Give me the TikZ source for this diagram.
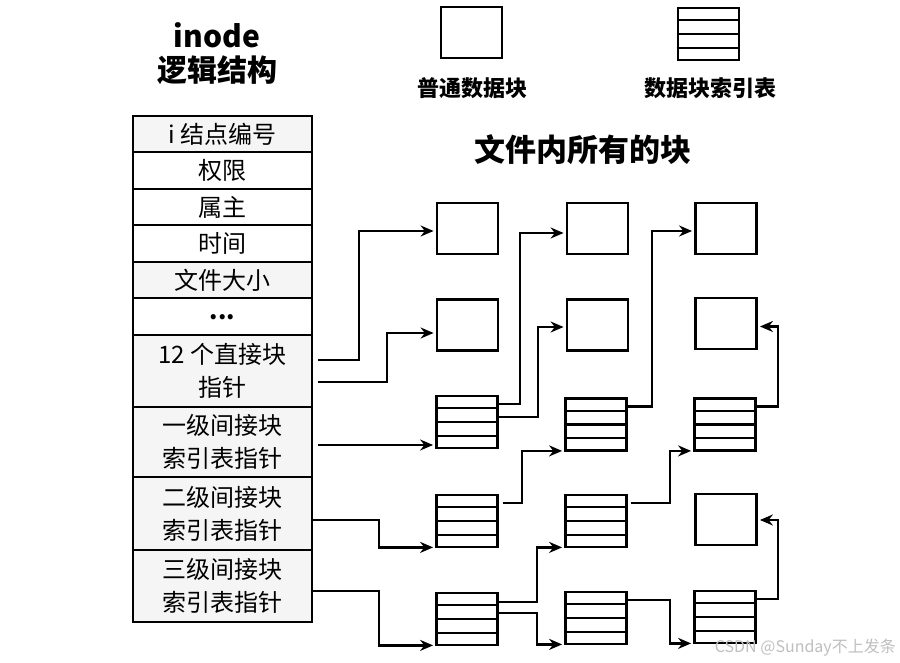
\documentclass[tikz,border=0pt]{standalone}
\usepackage{fontspec}
\setmainfont{Noto Sans CJK SC}
\usetikzlibrary{arrows.meta,calc}
\tikzset{
  row/.style={draw=black, line width=2.2pt, minimum width=179pt, inner sep=0pt,
    font=\fontsize{24}{33}\selectfont, align=center},
  shade/.style={fill=gray!8},
  plainblk/.style={draw=black, line width=2.8pt, minimum width=61pt, minimum height=51pt, inner sep=0pt},
  idxblk/.style={draw=black, line width=2.8pt, minimum width=61pt, minimum height=52pt, inner sep=0pt},
  idxline/.style={line width=2.2pt},
  arr/.style={line width=2.4pt, -{Stealth[length=13pt,width=11pt]}, shorten >=2pt},
  title/.style={font=\fontsize{30}{34}\selectfont\bfseries},
  lbl/.style={font=\fontsize{22}{26}\selectfont\bfseries},
}
\begin{document}
\begin{tikzpicture}[x=1pt,y=-1pt]
\useasboundingbox (0,0) rectangle (900,663);
\fill[white] (0,0) rectangle (900,663);

% titles
\node[title] (tinode) at (217,35) {inode};
\node[title] (tlogic) at (217,70) {逻辑结构};
\node[font=\fontsize{31}{34}\selectfont\bfseries] (tall) at (583,150) {文件内所有的块};

% legend
\node[plainblk] (leg1) at (471.5,32.5) {};
\node[idxblk] (leg2) at (708.5,34) {};
\node[lbl] (leg1t) at (472,88) {普通数据块};
\node[lbl] (leg2t) at (710,88) {数据块索引表};

% inode table
\node[row,shade,minimum height=36pt] (r1) at (222.5,134) {i 结点编号};
\node[row,minimum height=37pt] (r2) at (222.5,170.5) {权限};
\node[row,minimum height=36pt] (r3) at (222.5,207) {属主};
\node[row,minimum height=37pt] (r4) at (222.5,243.5) {时间};
\node[row,shade,minimum height=36pt] (r5) at (222.5,280) {文件大小};
\node[row,minimum height=37pt] (r6) at (222.5,316.5) {\raisebox{-6pt}{\bfseries ...}};
\node[row,shade,minimum height=72pt] (r7) at (222.5,371) {12 个直接块\\指针};
\node[row,shade,minimum height=70pt] (r8) at (222.5,442) {一级间接块\\索引表指针};
\node[row,shade,minimum height=73pt] (r9) at (222.5,513.5) {二级间接块\\索引表指针};
\node[row,shade,minimum height=72pt] (r10) at (222.5,586) {三级间接块\\索引表指针};

% blocks
\node[plainblk] (b11) at (467.5,228.5) {};
\node[plainblk] (b12) at (467.5,325) {};
\node[idxblk] (i13) at (467,422) {};
\node[idxblk] (i14) at (467,521) {};
\node[idxblk] (i15) at (467,619) {};

\node[plainblk] (b21) at (597.5,228.5) {};
\node[plainblk] (b22) at (597.5,325) {};
\node[idxblk] (i23) at (596,424.5) {};
\node[idxblk] (i24) at (596,521) {};
\node[idxblk] (i25) at (596,618) {};

\node[plainblk] (b31) at (726,228.5) {};
\node[plainblk] (b32) at (726,323.5) {};
\node[idxblk] (i33) at (725,424.5) {};
\node[plainblk] (b34) at (726,519.5) {};
\node[idxblk] (i35) at (725,617) {};

% index table inner lines
\foreach \n in {leg2,i13,i14,i15,i23,i24,i25,i33,i35}{
  \foreach \f in {0.25,0.5,0.75}{
    \draw[idxline] ($(\n.north west)!\f!(\n.south west)$) -- ($(\n.north east)!\f!(\n.south east)$);
  }
}

% vertical runs
\coordinate (v1) at (359,0);
\coordinate (v2) at (387,0);
\coordinate (v3) at (520,0);
\coordinate (v4) at (538,0);
\coordinate (v5) at (379,0);
\coordinate (v6) at (522,0);
\coordinate (v7) at (537,0);
\coordinate (v8) at (652,0);
\coordinate (v9) at (778,0);
\coordinate (v10) at (670,0);

% sources
\coordinate (s1) at ($(r7.east)+(5,-11)$);
\coordinate (s2) at ($(r7.east)+(5,11)$);
\coordinate (s5) at ($(r8.east)+(5,3)$);
\coordinate (s6) at ($(r9.east)+(0,6.5)$);
\coordinate (s7) at ($(r10.east)+(0,5)$);
\coordinate (s3) at ($(i13.east)+(0,-18)$);
\coordinate (s4) at ($(i13.east)+(0,-5)$);
\coordinate (s8) at ($(i14.east)+(4,-18)$);
\coordinate (s9) at ($(i15.east)+(0,-17)$);
\coordinate (s10) at ($(i15.east)+(0,-6)$);
\coordinate (s11) at ($(i23.east)+(0,-18)$);
\coordinate (s12) at ($(i33.east)+(0,-18)$);
\coordinate (s13) at ($(i24.east)+(3,-18)$);
\coordinate (s14) at ($(i25.east)+(0,-18)$);
\coordinate (s15) at ($(i35.east)+(0,-18)$);

% targets
\coordinate (t1) at ($(b11.west)+(0,2.5)$);
\coordinate (t2) at ($(b12.west)+(0,8)$);
\coordinate (t3) at ($(b21.west)+(0,4.5)$);
\coordinate (t4) at ($(b22.west)+(0,2)$);
\coordinate (t6) at ($(i14.south west)+(0,-1)$);
\coordinate (t7) at ($(i15.south west)+(0,-1)$);
\coordinate (t8) at ($(i23.south west)+(0,-1)$);
\coordinate (t9) at ($(i24.south west)+(0,-1)$);
\coordinate (t10) at ($(i25.south west)+(0,-1)$);
\coordinate (t11) at ($(b31.west)+(0,2.5)$);
\coordinate (t12) at ($(b32.east)+(0,3)$);
\coordinate (t13) at ($(i33.south west)+(0,-1)$);
\coordinate (t14) at ($(i35.south west)+(0,-1)$);
\coordinate (t15) at ($(b34.east)+(0,0.5)$);

% connectors
\draw[arr] (s1) -- (s1 -| v1) |- (t1);
\draw[arr] (s2) -- (s2 -| v2) |- (t2);
\draw[arr] (s3) -- (s3 -| v3) |- (t3);
\draw[arr] (s4) -- (s4 -| v4) |- (t4);
\draw[arr] (s5) -- (s5 -| i13.west);
\draw[arr] (s6) -- (s6 -| v5) |- (t6);
\draw[arr] (s7) -- (s7 -| v5) |- (t7);
\draw[arr] (s8) -- (s8 -| v6) |- (t8);
\draw[arr] (s9) -- (s9 -| v7) |- (t9);
\draw[arr] (s10) -- (s10 -| v7) |- (t10);
\draw[arr] (s11) -- (s11 -| v8) |- (t11);
\draw[arr] (s12) -- (s12 -| v9) |- (t12);
\draw[arr] (s13) -- (s13 -| v10) |- (t13);
\draw[arr] (s14) -- (s14 -| v10) |- (t14);
\draw[arr] (s15) -- (s15 -| v9) |- (t15);

% watermark
\node[anchor=east, text=gray!50, font=\fontsize{16}{18}\selectfont, inner sep=0pt] (wm) at (896,648) {CSDN @Sunday不上发条};
\end{tikzpicture}
\end{document}
